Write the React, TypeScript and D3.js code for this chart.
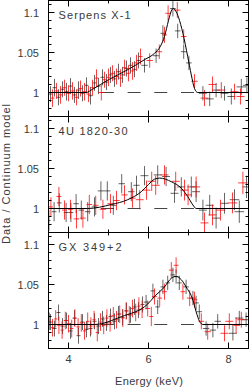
import React from "react";
import * as d3 from "d3";

// [energy keV, ratio, half bin width, error]
type Pt = [number, number, number, number];
type MPt = [number, number];

const panelTitles = ["Serpens X-1", "4U 1820-30", "GX 349+2"];
const energyTicks = [4, 5, 6, 7, 8];
const energyLabels = [4, 6, 8];
const ratioTicks = [0.98, 0.99, 1, 1.01, 1.02, 1.03, 1.04, 1.05, 1.06, 1.07, 1.08, 1.09, 1.1, 1.11];
const ratioLabels = [1, 1.05, 1.1];

// Serpens X-1
const serpModel: MPt[] = [
  [3.5, 1], [4.44, 1], [4.6, 1.004], [5.0, 1.016], [5.5, 1.029], [5.9, 1.041], [6.15, 1.049],
  [6.3, 1.058], [6.4, 1.07], [6.5, 1.09], [6.58, 1.103], [6.62, 1.105], [6.68, 1.102],
  [6.75, 1.094], [6.86, 1.074], [6.98, 1.045], [7.07, 1.022], [7.15, 1.005], [7.23, 1], [8.5, 1],
];
const serpBlack: Pt[] = [
  [3.55, 0.998, 0.05, 0.010], [3.65, 1.006, 0.05, 0.011], [3.75, 0.994, 0.05, 0.010], [3.85, 1.004, 0.05, 0.010],
  [3.95, 1.001, 0.05, 0.011], [4.05, 1.008, 0.05, 0.010], [4.15, 0.997, 0.05, 0.010], [4.25, 1.003, 0.05, 0.011],
  [4.35, 0.999, 0.05, 0.010], [4.45, 1.009, 0.05, 0.010], [4.55, 0.996, 0.05, 0.011], [4.65, 1.012, 0.05, 0.010],
  [4.75, 1.008, 0.05, 0.010], [4.85, 1.019, 0.05, 0.010], [4.95, 1.013, 0.05, 0.010], [5.05, 1.022, 0.05, 0.010],
  [5.15, 1.017, 0.05, 0.010], [5.25, 1.026, 0.05, 0.010], [5.35, 1.022, 0.05, 0.010], [5.45, 1.030, 0.05, 0.010],
  [5.55, 1.034, 0.05, 0.010], [5.65, 1.029, 0.05, 0.010], [5.75, 1.040, 0.05, 0.010], [5.9, 1.034, 0.08, 0.009],
  [6.19, 1.046, 0.08, 0.009], [6.36, 1.074, 0.06, 0.010], [6.61, 1.105, 0.07, 0.010], [6.73, 1.077, 0.07, 0.009],
  [6.88, 1.051, 0.07, 0.009], [7.01, 1.037, 0.07, 0.009], [7.36, 0.999, 0.1, 0.009], [7.53, 0.992, 0.1, 0.009],
  [7.69, 1.003, 0.1, 0.009], [7.9, 0.999, 0.1, 0.009], [8.07, 0.995, 0.1, 0.010], [8.32, 1.007, 0.12, 0.010],
  [8.46, 1.009, 0.1, 0.010],
];
const serpRed: Pt[] = [
  [3.6, 0.993, 0.05, 0.011], [3.7, 1.002, 0.05, 0.010], [3.8, 0.997, 0.05, 0.011], [3.9, 1.006, 0.05, 0.010],
  [4.0, 0.999, 0.05, 0.010], [4.1, 1.002, 0.05, 0.011], [4.2, 0.994, 0.05, 0.010], [4.3, 1.005, 0.05, 0.010],
  [4.4, 1.001, 0.05, 0.011], [4.5, 0.998, 0.05, 0.010], [4.6, 1.006, 0.05, 0.010], [4.7, 1.018, 0.05, 0.011],
  [4.82, 1.000, 0.08, 0.010], [4.9, 1.016, 0.05, 0.010], [5.0, 1.019, 0.05, 0.011], [5.1, 1.024, 0.05, 0.010],
  [5.2, 1.020, 0.05, 0.010], [5.3, 1.018, 0.05, 0.011], [5.4, 1.031, 0.05, 0.010], [5.5, 1.024, 0.05, 0.010],
  [5.6, 1.027, 0.05, 0.011], [5.7, 1.037, 0.05, 0.010], [5.8, 1.045, 0.05, 0.010], [6.03, 1.040, 0.08, 0.009],
  [6.27, 1.051, 0.07, 0.009], [6.4, 1.072, 0.06, 0.010], [6.49, 1.099, 0.07, 0.010], [6.72, 1.103, 0.08, 0.010],
  [6.88, 1.070, 0.07, 0.009], [7.15, 1.014, 0.08, 0.009], [7.4, 0.993, 0.1, 0.010], [7.6, 1.010, 0.1, 0.010],
  [7.82, 1.003, 0.1, 0.010], [8.15, 1.001, 0.1, 0.010], [8.3, 0.995, 0.1, 0.010],
];

// 4U 1820-30
const fourUModel: MPt[] = [
  [3.5, 1], [4.48, 1], [5.07, 1.005], [5.48, 1.011], [5.82, 1.021], [6.0, 1.030], [6.15, 1.0366],
  [6.28, 1.038], [6.57, 1.0335], [6.82, 1.0253], [6.98, 1.015], [7.11, 1.0044], [7.19, 1], [8.5, 1],
];
const fourUBlack: Pt[] = [
  [3.51, 0.985, 0.04, 0.013], [3.64, 0.996, 0.06, 0.012], [3.77, 1.007, 0.06, 0.012], [3.94, 0.995, 0.06, 0.012],
  [4.06, 0.995, 0.06, 0.012], [4.19, 1.006, 0.07, 0.012], [4.32, 0.998, 0.07, 0.012], [4.48, 0.996, 0.07, 0.012],
  [4.65, 1.002, 0.07, 0.012], [4.81, 1.022, 0.08, 0.012], [4.97, 1.022, 0.08, 0.012], [5.12, 1.004, 0.08, 0.012],
  [5.33, 1.031, 0.08, 0.012], [5.57, 1.021, 0.08, 0.012], [5.7, 1.029, 0.08, 0.012], [5.9, 1.041, 0.1, 0.012],
  [6.23, 1.042, 0.1, 0.012], [6.44, 1.040, 0.1, 0.012], [6.65, 1.019, 0.1, 0.012], [6.82, 1.027, 0.1, 0.012],
  [7.07, 1.027, 0.1, 0.013], [7.19, 1.021, 0.1, 0.013], [7.36, 0.998, 0.1, 0.013], [7.53, 1.004, 0.1, 0.013],
  [7.69, 0.988, 0.1, 0.013], [7.9, 1.0065, 0.1, 0.013], [8.15, 1.011, 0.12, 0.013], [8.27, 0.996, 0.12, 0.014],
  [8.45, 1.027, 0.1, 0.014],
];
const fourURed: Pt[] = [
  [3.56, 1.002, 0.05, 0.012], [3.76, 1.015, 0.06, 0.012], [3.9, 0.998, 0.06, 0.012], [4.05, 0.999, 0.06, 0.012],
  [4.2, 0.987, 0.07, 0.012], [4.36, 0.988, 0.07, 0.012], [4.52, 1.005, 0.07, 0.012], [4.68, 1.004, 0.07, 0.012],
  [4.86, 0.999, 0.08, 0.012], [5.05, 1.006, 0.08, 0.012], [5.2, 1.010, 0.08, 0.012], [5.4, 1.017, 0.08, 0.012],
  [5.6, 1.013, 0.08, 0.012], [5.78, 1.011, 0.1, 0.012], [5.95, 1.023, 0.1, 0.012], [6.08, 1.034, 0.1, 0.012],
  [6.18, 1.029, 0.1, 0.012], [6.4, 1.042, 0.1, 0.012], [6.68, 1.034, 0.1, 0.012], [6.9, 1.023, 0.1, 0.013],
  [6.99, 1.017, 0.1, 0.013], [7.19, 1.027, 0.1, 0.013], [7.4, 0.982, 0.1, 0.013], [7.6, 0.992, 0.1, 0.013],
  [7.8, 0.998, 0.12, 0.013], [8.1, 1.007, 0.12, 0.013], [8.36, 1.032, 0.12, 0.014],
];

// GX 349+2
const gxModel: MPt[] = [
  [3.5, 1], [4.65, 1], [5.32, 1.0098], [5.98, 1.0256], [6.15, 1.035], [6.4, 1.047], [6.57, 1.0578],
  [6.69, 1.06], [6.82, 1.056], [6.94, 1.047], [7.11, 1.0306], [7.19, 1.016], [7.28, 1.0035], [7.36, 1], [8.5, 1],
];
const gxBlack: Pt[] = [
  [3.55, 1.003, 0.05, 0.010], [3.65, 0.995, 0.05, 0.010], [3.75, 1.015, 0.05, 0.010], [3.85, 0.998, 0.05, 0.010],
  [3.95, 1.005, 0.05, 0.010], [4.05, 0.992, 0.05, 0.010], [4.15, 1.008, 0.05, 0.010], [4.25, 0.986, 0.05, 0.010],
  [4.35, 1.003, 0.05, 0.010], [4.45, 0.994, 0.05, 0.010], [4.55, 0.995, 0.05, 0.010], [4.65, 1.004, 0.05, 0.010],
  [4.75, 0.998, 0.05, 0.010], [4.85, 1.007, 0.05, 0.010], [4.95, 1.002, 0.05, 0.010], [5.05, 1.010, 0.05, 0.010],
  [5.15, 1.004, 0.05, 0.010], [5.25, 1.013, 0.05, 0.010], [5.35, 1.009, 0.05, 0.010], [5.45, 1.017, 0.05, 0.010],
  [5.55, 1.012, 0.05, 0.010], [5.65, 1.022, 0.05, 0.010], [5.75, 1.018, 0.05, 0.010], [5.85, 1.025, 0.05, 0.010],
  [5.94, 1.028, 0.06, 0.009], [6.11, 1.042, 0.06, 0.009], [6.23, 1.022, 0.06, 0.009], [6.36, 1.047, 0.06, 0.009],
  [6.48, 1.052, 0.06, 0.009], [6.61, 1.062, 0.06, 0.009], [6.69, 1.060, 0.06, 0.009], [6.77, 1.052, 0.06, 0.009],
  [6.94, 1.047, 0.07, 0.009], [7.11, 1.033, 0.07, 0.009], [7.19, 1.027, 0.07, 0.009], [7.27, 1.016, 0.07, 0.009],
  [7.44, 0.995, 0.08, 0.009], [7.61, 0.993, 0.08, 0.009], [7.73, 1.004, 0.08, 0.009], [8.11, 0.989, 0.1, 0.009],
  [8.27, 1.008, 0.1, 0.009], [8.44, 1.006, 0.1, 0.009],
];
const gxRed: Pt[] = [
  [3.52, 1.004, 0.04, 0.011], [3.6, 0.996, 0.04, 0.011], [3.68, 1.007, 0.04, 0.011], [3.76, 0.999, 0.04, 0.011],
  [3.84, 0.993, 0.04, 0.011], [3.92, 1.005, 0.04, 0.011], [4.0, 1.001, 0.04, 0.011], [4.08, 0.995, 0.04, 0.011],
  [4.16, 1.008, 0.04, 0.011], [4.24, 0.997, 0.04, 0.011], [4.32, 1.002, 0.04, 0.011], [4.4, 0.992, 0.04, 0.011],
  [4.48, 1.004, 0.04, 0.011], [4.56, 0.998, 0.04, 0.011], [4.64, 1.006, 0.04, 0.011], [4.72, 0.990, 0.04, 0.011],
  [4.8, 1.003, 0.04, 0.011], [4.88, 0.999, 0.04, 0.011], [4.96, 1.008, 0.04, 0.011], [5.04, 1.002, 0.04, 0.011],
  [5.12, 1.011, 0.04, 0.011], [5.2, 1.006, 0.04, 0.011], [5.28, 1.013, 0.04, 0.011], [5.36, 1.008, 0.04, 0.011],
  [5.44, 1.017, 0.04, 0.011], [5.52, 1.012, 0.04, 0.011], [5.6, 1.020, 0.04, 0.011], [5.68, 1.015, 0.04, 0.011],
  [5.76, 1.023, 0.04, 0.011], [5.84, 1.019, 0.04, 0.011], [5.98, 1.020, 0.06, 0.010], [6.07, 1.010, 0.05, 0.012],
  [6.15, 1.035, 0.06, 0.010], [6.28, 1.033, 0.06, 0.010], [6.4, 1.041, 0.06, 0.010], [6.57, 1.068, 0.06, 0.010],
  [6.69, 1.074, 0.06, 0.010], [6.86, 1.041, 0.06, 0.010], [7.03, 1.033, 0.07, 0.010], [7.15, 1.031, 0.07, 0.010],
  [7.32, 1.004, 0.07, 0.010], [7.48, 0.991, 0.08, 0.010], [7.9, 0.989, 0.1, 0.010], [8.02, 1.004, 0.1, 0.010],
  [8.19, 0.999, 0.1, 0.010], [8.32, 1.006, 0.1, 0.010],
];

const panels = [
  { title: panelTitles[0], titleLen: 72, model: serpModel, black: serpBlack, red: serpRed },
  { title: panelTitles[1], titleLen: 69, model: fourUModel, black: fourUBlack, red: fourURed },
  { title: panelTitles[2], titleLen: 63, model: gxModel, black: gxBlack, red: gxRed },
];

const W = 250;
const H = 388;
const left = 48.5;
const right = 248.5;
const top0 = 0.5;
const panelH = 116;
const font = "'Liberation Sans', Arial, sans-serif";
const textFill = "#3a3a3a";

const x = d3.scaleLinear().domain([3.5, 8.5]).range([left, right]);

const Points = ({ data, y, color, opacity }: { data: Pt[]; y: d3.ScaleLinear<number, number>; color: string; opacity: number }) => (
  <g stroke={color} strokeOpacity={opacity} strokeWidth={1} fill="none">
    {data.map((d, i) => (
      <g key={i}>
        <line x1={x(d[0] - d[2])} x2={x(d[0] + d[2])} y1={y(d[1])} y2={y(d[1])} />
        <line x1={x(d[0])} x2={x(d[0])} y1={y(d[1] - d[3])} y2={y(d[1] + d[3])} />
      </g>
    ))}
  </g>
);

const Panel = ({ idx, title, titleLen, model, black, red }: any) => {
  const top = top0 + panelH * idx;
  const bottom = top + panelH;
  const y = d3.scaleLinear().domain([0.97, 1.115]).range([bottom, top]);
  const line = d3.line<MPt>().x(d => x(d[0])).y(d => y(d[1])).curve(d3.curveMonotoneX);
  const clipId = `clip${idx}`;
  const isMajorY = (v: number) => ratioLabels.some(l => Math.abs(l - v) < 1e-6);
  return (
    <g>
      <defs>
        <clipPath id={clipId}>
          <rect x={left} y={top} width={right - left} height={panelH} />
        </clipPath>
      </defs>
      <g clipPath={`url(#${clipId})`}>
        <line x1={x(3.5)} x2={x(8.5)} y1={y(1)} y2={y(1)} stroke="#444" strokeWidth={1}
          strokeDasharray="13 13.7" strokeDashoffset={1} />
        <Points data={black} y={y} color="#000" opacity={0.6} />
        <Points data={red} y={y} color="#ff0000" opacity={0.75} />
        <path d={line(model) || ""} fill="none" stroke="#000" strokeWidth={1} />
      </g>
      <rect x={left} y={top} width={right - left} height={panelH} fill="none" stroke="#000" strokeWidth={1} />
      <g stroke="#000" strokeWidth={1}>
        {ratioTicks.map(v => {
          const len = isMajorY(v) ? 6 : 3;
          const yy = y(v);
          return (
            <g key={v}>
              <line x1={left} x2={left + len} y1={yy} y2={yy} />
              <line x1={right} x2={right - len} y1={yy} y2={yy} />
            </g>
          );
        })}
        {energyTicks.map(e => {
          const len = e % 2 === 0 ? 6 : 3;
          return (
            <g key={e}>
              <line x1={x(e)} x2={x(e)} y1={top} y2={top + len} />
              <line x1={x(e)} x2={x(e)} y1={bottom} y2={bottom - len} />
            </g>
          );
        })}
      </g>
      <g fontFamily={font} fontSize={11} fill={textFill}>
        {ratioLabels.map(v => (
          <text key={v} x={39} y={y(v) + 4} textAnchor="end">{d3.format("~g")(v)}</text>
        ))}
        <text x={58.5} y={top + 18} textLength={titleLen} lengthAdjust="spacing">{title}</text>
      </g>
    </g>
  );
};

export default function App() {
  const bottom = top0 + panelH * 3;
  return (
    <svg width={W} height={H} style={{ position: "absolute", left: 0, top: 0, background: "#fff" }}>
      {panels.map((p, i) => (
        <Panel key={i} idx={i} {...p} />
      ))}
      <g fontFamily={font} fontSize={11} fill={textFill}>
        {energyLabels.map(e => (
          <text key={e} x={x(e)} y={bottom + 14} textAnchor="middle">{e}</text>
        ))}
        <text x={149} y={385} textAnchor="middle" textLength={68} lengthAdjust="spacing">Energy (keV)</text>
        <text transform="translate(10,174) rotate(-90)" textAnchor="middle" textLength={140} lengthAdjust="spacing">
          Data / Continuum model
        </text>
      </g>
    </svg>
  );
}
